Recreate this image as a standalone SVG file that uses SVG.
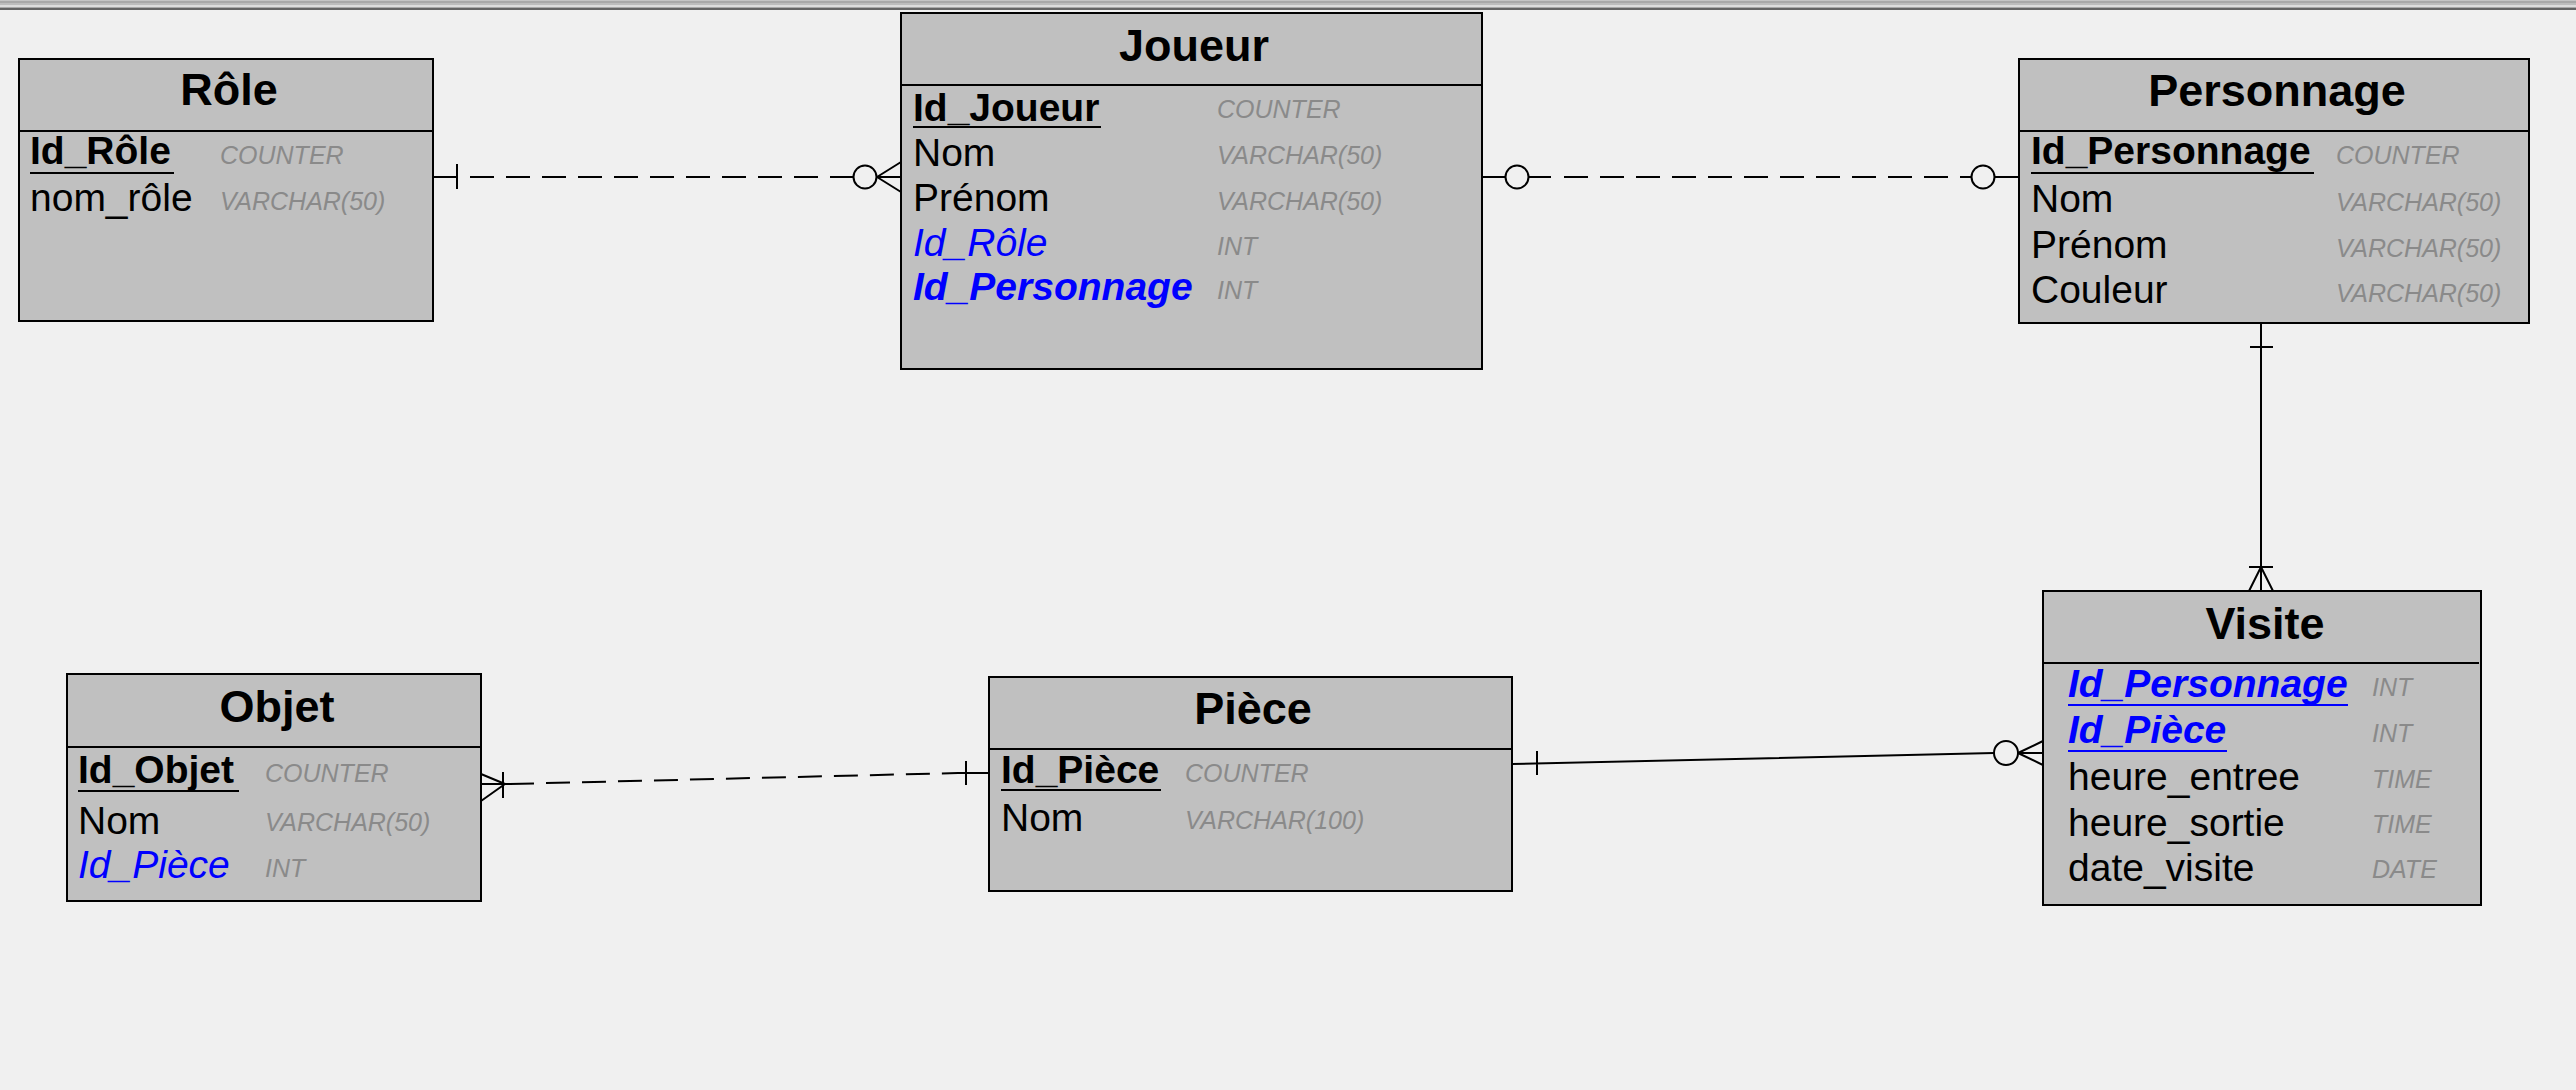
<svg xmlns="http://www.w3.org/2000/svg" width="2576" height="1090" viewBox="0 0 2576 1090">
<style>
.box{fill:#c0c0c0;stroke:#000;stroke-width:2}
.sep{stroke:#000;stroke-width:2}
.title{font-family:"Liberation Sans",Arial,sans-serif;font-weight:bold;font-size:45px;text-anchor:middle;fill:#000}
.a{font-family:"Liberation Sans",Arial,sans-serif;font-size:39px;fill:#000}
.pk{font-weight:bold}
.fk{font-style:italic;fill:#0000ff}
.t{font-family:"Liberation Sans",Arial,sans-serif;font-size:25px;font-style:italic;fill:#8a8a8a}
.ul{stroke:#000;stroke-width:2}
.ulb{stroke:#0000ff;stroke-width:2}
.c{fill:none;stroke:#000;stroke-width:2}
.d{fill:none;stroke:#000;stroke-width:2;stroke-dasharray:24 12}
</style>
<rect x="0" y="0" width="2576" height="1090" fill="#f0f0f0"/>
<g id="topband">
<rect x="0" y="0" width="2576" height="1" fill="#c4c4c4"/>
<rect x="0" y="1" width="2576" height="2" fill="#a8a8a8"/>
<rect x="0" y="3" width="2576" height="2" fill="#bcbcbc"/>
<rect x="0" y="5" width="2576" height="2" fill="#dcdcdc"/>
<rect x="0" y="7" width="2576" height="1" fill="#a8a8a8"/>
<rect x="0" y="8" width="2576" height="2" fill="#646464"/>
</g>
<g id="connectors">
<!-- Role - Joueur -->
<path class="c" d="M433 177H457M457 164V189"/>
<path class="d" d="M470 177H830"/>
<path class="c" d="M830 177H853"/>
<circle class="c" cx="865" cy="177" r="11.5"/>
<path class="c" d="M876.5 177H901M877 177L901 162M877 177L901 192"/>
<!-- Joueur - Personnage -->
<path class="c" d="M1482 177H1505"/>
<circle class="c" cx="1517" cy="177" r="11.5"/>
<path class="c" d="M1528.5 177H1551"/>
<path class="d" d="M1564 177H1950"/>
<path class="c" d="M1960 177H1971.5"/>
<circle class="c" cx="1983" cy="177" r="11.5"/>
<path class="c" d="M1994.5 177H2019"/>
<!-- Personnage - Visite -->
<path class="c" d="M2261 323V591M2250 347H2273M2249 567H2273M2261 567L2249 591M2261 567L2273 591"/>
<!-- Piece - Visite -->
<path class="c" d="M1512 764L1994 753M1537 751V775"/>
<circle class="c" cx="2006" cy="753" r="12"/>
<path class="c" d="M2018 753H2043M2018 753L2043 741M2018 753L2043 765"/>
<!-- Objet - Piece -->
<path class="c" d="M481 784H505M505 784L481 774M505 784L481 801M503 772V798M505 784H510"/>
<path class="d" d="M510 784L958 773"/>
<path class="c" d="M958 773H989M966 761V785"/>
</g>
<g id="role">
<rect class="box" x="19" y="59" width="414" height="262"/>
<line class="sep" x1="19" y1="131" x2="433" y2="131"/>
<text class="title" x="229" y="105">Rôle</text>
<text class="a pk" x="30" y="164">Id_Rôle</text>
<line class="ul" x1="30" y1="173" x2="174" y2="173"/>
<text class="a" x="30" y="211">nom_rôle</text>
<text class="t" x="220" y="164">COUNTER</text>
<text class="t" x="220" y="210">VARCHAR(50)</text>
</g>
<g id="joueur">
<rect class="box" x="901" y="13" width="581" height="356"/>
<line class="sep" x1="901" y1="85" x2="1482" y2="85"/>
<text class="title" x="1194" y="61">Joueur</text>
<text class="a pk" x="913" y="121">Id_Joueur</text>
<line class="ul" x1="913" y1="127" x2="1101" y2="127"/>
<text class="a" x="913" y="166">Nom</text>
<text class="a" x="913" y="211">Prénom</text>
<text class="a fk" x="913" y="256">Id_Rôle</text>
<text class="a fk pk" x="913" y="300">Id_Personnage</text>
<text class="t" x="1217" y="118">COUNTER</text>
<text class="t" x="1217" y="164">VARCHAR(50)</text>
<text class="t" x="1217" y="210">VARCHAR(50)</text>
<text class="t" x="1217" y="255">INT</text>
<text class="t" x="1217" y="299">INT</text>
</g>
<g id="personnage">
<rect class="box" x="2019" y="59" width="510" height="264"/>
<line class="sep" x1="2019" y1="131" x2="2529" y2="131"/>
<text class="title" x="2277" y="106">Personnage</text>
<text class="a pk" x="2031" y="164">Id_Personnage</text>
<line class="ul" x1="2031" y1="173" x2="2314" y2="173"/>
<text class="a" x="2031" y="212">Nom</text>
<text class="a" x="2031" y="258">Prénom</text>
<text class="a" x="2031" y="303">Couleur</text>
<text class="t" x="2336" y="164">COUNTER</text>
<text class="t" x="2336" y="211">VARCHAR(50)</text>
<text class="t" x="2336" y="257">VARCHAR(50)</text>
<text class="t" x="2336" y="302">VARCHAR(50)</text>
</g>
<g id="visite">
<rect class="box" x="2043" y="591" width="438" height="314"/>
<line class="sep" x1="2043" y1="663" x2="2479" y2="663"/>
<text class="title" x="2265" y="639">Visite</text>
<text class="a fk pk" x="2068" y="697">Id_Personnage</text>
<line class="ulb" x1="2068" y1="705" x2="2348" y2="705"/>
<text class="a fk pk" x="2068" y="743">Id_Pièce</text>
<line class="ulb" x1="2068" y1="751" x2="2227" y2="751"/>
<text class="a" x="2068" y="790">heure_entree</text>
<text class="a" x="2068" y="836">heure_sortie</text>
<text class="a" x="2068" y="881">date_visite</text>
<text class="t" x="2372" y="696">INT</text>
<text class="t" x="2372" y="742">INT</text>
<text class="t" x="2372" y="788">TIME</text>
<text class="t" x="2372" y="833">TIME</text>
<text class="t" x="2372" y="878">DATE</text>
</g>
<g id="piece">
<rect class="box" x="989" y="677" width="523" height="214"/>
<line class="sep" x1="989" y1="749" x2="1512" y2="749"/>
<text class="title" x="1253" y="724">Pièce</text>
<text class="a pk" x="1001" y="783">Id_Pièce</text>
<line class="ul" x1="1001" y1="790" x2="1161" y2="790"/>
<text class="a" x="1001" y="831">Nom</text>
<text class="t" x="1185" y="782">COUNTER</text>
<text class="t" x="1185" y="829">VARCHAR(100)</text>
</g>
<g id="objet">
<rect class="box" x="67" y="674" width="414" height="227"/>
<line class="sep" x1="67" y1="747" x2="481" y2="747"/>
<text class="title" x="277" y="722">Objet</text>
<text class="a pk" x="78" y="783">Id_Objet</text>
<line class="ul" x1="78" y1="791" x2="239" y2="791"/>
<text class="a" x="78" y="834">Nom</text>
<text class="a fk" x="78" y="878">Id_Pièce</text>
<text class="t" x="265" y="782">COUNTER</text>
<text class="t" x="265" y="831">VARCHAR(50)</text>
<text class="t" x="265" y="877">INT</text>
</g>
</svg>
